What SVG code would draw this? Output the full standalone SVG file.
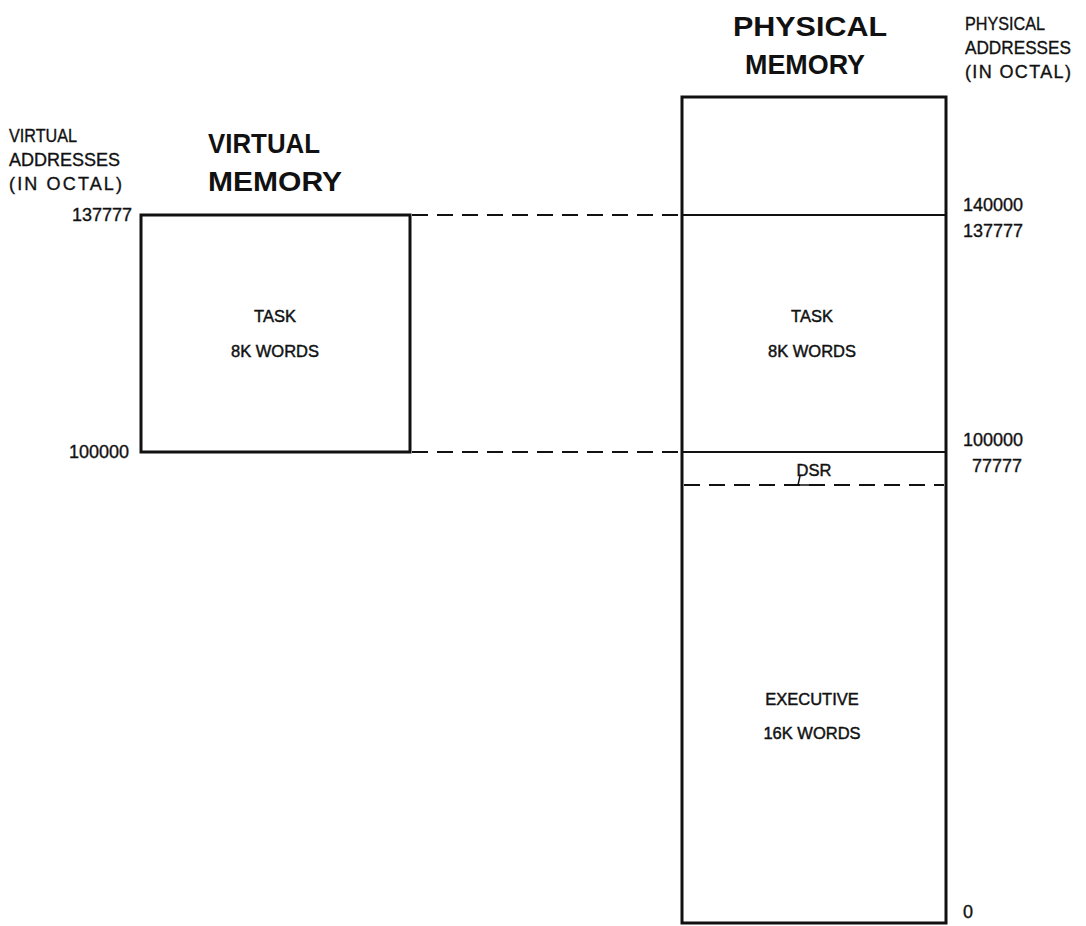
<svg xmlns="http://www.w3.org/2000/svg" width="1086" height="926" viewBox="0 0 1086 926">
<style>
.t{font-family:"Liberation Sans",Arial,sans-serif;font-size:18px;fill:#111;stroke:#111;stroke-width:0.35}
.i{font-size:16.5px;stroke-width:0.45}
.c{text-anchor:middle}
.r{text-anchor:end}
.h{font-family:"Liberation Sans",Arial,sans-serif;font-size:28px;font-weight:bold;fill:#111}
.box{fill:none;stroke:#111;stroke-width:3}
.div{stroke:#111;stroke-width:2}
.dash{stroke:#111;stroke-width:2;stroke-dasharray:16,9;fill:none}
</style>
<rect width="1086" height="926" fill="#fff"/>
<g id="labels">
<text class="t" x="9" y="142" textLength="68" lengthAdjust="spacingAndGlyphs">VIRTUAL</text>
<text class="t" x="9" y="166" textLength="111" lengthAdjust="spacingAndGlyphs">ADDRESSES</text>
<text class="t" x="9" y="190" textLength="113" lengthAdjust="spacing">(IN OCTAL)</text>
<text class="h" x="208" y="153" textLength="112" lengthAdjust="spacingAndGlyphs">VIRTUAL</text>
<text class="h" x="208" y="191" textLength="134" lengthAdjust="spacingAndGlyphs">MEMORY</text>
<text class="h" x="733" y="36" textLength="154" lengthAdjust="spacingAndGlyphs">PHYSICAL</text>
<text class="h" x="745" y="74" textLength="120" lengthAdjust="spacingAndGlyphs">MEMORY</text>
<text class="t" x="965" y="30" textLength="80" lengthAdjust="spacingAndGlyphs">PHYSICAL</text>
<text class="t" x="965" y="54" textLength="106" lengthAdjust="spacingAndGlyphs">ADDRESSES</text>
<text class="t" x="965" y="78" textLength="106" lengthAdjust="spacing">(IN OCTAL)</text>
<text class="t r" x="132" y="221">137777</text>
<text class="t r" x="129" y="458">100000</text>
<text class="t" x="963" y="211">140000</text>
<text class="t" x="963" y="237">137777</text>
<text class="t" x="963" y="446">100000</text>
<text class="t" x="972" y="472">77777</text>
<text class="t" x="963" y="918">0</text>
</g>
<g id="virtual-task">
<rect class="box" x="141" y="215" width="269" height="237"/>
<text class="t i c" x="275" y="322">TASK</text>
<text class="t i c" x="275" y="357">8K WORDS</text>
</g>
<g id="physical-memory">
<rect class="box" x="682" y="97" width="264" height="826"/>
<line class="div" x1="682" y1="215" x2="946" y2="215"/>
<line class="div" x1="682" y1="452" x2="946" y2="452"/>
<line class="dash" x1="684" y1="485" x2="944" y2="485"/>
</g>
<g id="physical-task">
<text class="t i c" x="812" y="322">TASK</text>
<text class="t i c" x="812" y="357">8K WORDS</text>
</g>
<g id="dsr">
<text class="t i c" x="814" y="476">DSR</text>
<polyline points="800,476 798,485 810,485" fill="none" stroke="#111" stroke-width="1.5"/>
</g>
<g id="executive">
<text class="t i c" x="812" y="705">EXECUTIVE</text>
<text class="t i c" x="812" y="739">16K WORDS</text>
</g>
<g id="connectors">
<line class="dash" x1="412" y1="215" x2="680" y2="215"/>
<line class="dash" x1="412" y1="452" x2="680" y2="452"/>
</g>
</svg>
